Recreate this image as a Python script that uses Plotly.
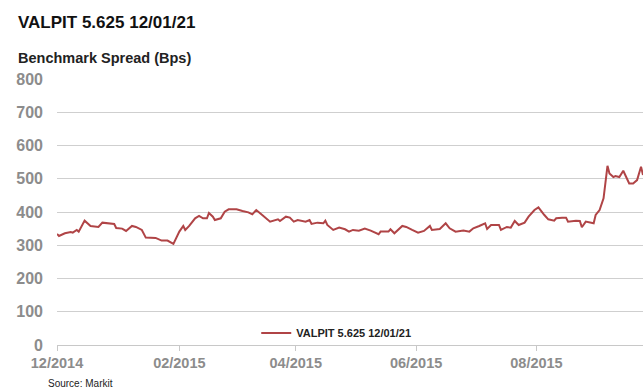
import plotly.graph_objects as go

dates = [
    "2014-12-01", "2014-12-02", "2014-12-05", "2014-12-08", "2014-12-09", "2014-12-11",
    "2014-12-12", "2014-12-15", "2014-12-18", "2014-12-22", "2014-12-24", "2014-12-28",
    "2014-12-30", "2014-12-31", "2015-01-03", "2015-01-05", "2015-01-08", "2015-01-10",
    "2015-01-13", "2015-01-15", "2015-01-20", "2015-01-23", "2015-01-26", "2015-01-29",
    "2015-02-01", "2015-02-03", "2015-02-04", "2015-02-06", "2015-02-09", "2015-02-11",
    "2015-02-13", "2015-02-15", "2015-02-16", "2015-02-18", "2015-02-19", "2015-02-22",
    "2015-02-24", "2015-02-26", "2015-03-02", "2015-03-05", "2015-03-08", "2015-03-10",
    "2015-03-12", "2015-03-15", "2015-03-19", "2015-03-23", "2015-03-24", "2015-03-27",
    "2015-03-29", "2015-03-31", "2015-04-02", "2015-04-06", "2015-04-08", "2015-04-09",
    "2015-04-12", "2015-04-15", "2015-04-16", "2015-04-17", "2015-04-20", "2015-04-23",
    "2015-04-26", "2015-04-28", "2015-04-30", "2015-05-03", "2015-05-06", "2015-05-09",
    "2015-05-13", "2015-05-14", "2015-05-18", "2015-05-19", "2015-05-21", "2015-05-25",
    "2015-05-27", "2015-05-30", "2015-06-02", "2015-06-05", "2015-06-08", "2015-06-09",
    "2015-06-13", "2015-06-16", "2015-06-18", "2015-06-21", "2015-06-25", "2015-06-28",
    "2015-06-30", "2015-07-03", "2015-07-06", "2015-07-07", "2015-07-09", "2015-07-13",
    "2015-07-14", "2015-07-17", "2015-07-19", "2015-07-21", "2015-07-23", "2015-07-26",
    "2015-07-28", "2015-07-31", "2015-08-02", "2015-08-05", "2015-08-07", "2015-08-10",
    "2015-08-11", "2015-08-14", "2015-08-16", "2015-08-17", "2015-08-21", "2015-08-23",
    "2015-08-24", "2015-08-26", "2015-08-30", "2015-08-31", "2015-09-02", "2015-09-04",
    "2015-09-06", "2015-09-07", "2015-09-09", "2015-09-10", "2015-09-12", "2015-09-14",
    "2015-09-16", "2015-09-17", "2015-09-19", "2015-09-21", "2015-09-23", "2015-09-24",
]
spread = [
    334, 328, 336, 340, 338, 346,
    341, 374, 358, 355, 368, 364,
    364, 352, 350, 343, 358, 355,
    346, 323, 322, 314, 314, 304,
    341, 358, 346, 358, 381, 388,
    381, 381, 397, 386, 376, 381,
    401, 408, 408, 403, 399, 393,
    406, 391, 371, 378, 373, 386,
    383, 371, 376, 371, 376, 364,
    368, 366, 374, 361, 346, 353,
    348, 341, 346, 344, 350, 344,
    333, 341, 341, 348, 336, 358,
    355, 346, 338, 343, 358, 346,
    349, 366, 351, 341, 344, 341,
    351, 358, 366, 349, 361, 361,
    346, 355, 353, 373, 361, 368,
    386, 406, 414, 391, 378, 374,
    381, 383, 383, 371, 374, 373,
    354, 371, 366, 391, 406, 441,
    539, 516, 505, 508, 505, 524,
    496, 486, 486, 496, 536, 511,
]
series_name = "VALPIT 5.625 12/01/21"
tick_vals = ["2014-12-01", "2015-02-01", "2015-04-01", "2015-06-01", "2015-08-01"]
tick_text = ["12/2014", "02/2015", "04/2015", "06/2015", "08/2015"]
y_ticks = [0, 100, 200, 300, 400, 500, 600, 700, 800]

fig = go.Figure()
fig.add_trace(go.Scatter(
    x=dates, y=spread, mode="lines", name=series_name,
    line=dict(color="#b04446", width=2),
))

font_family = "Liberation Sans, Arial, sans-serif"
fig.update_layout(
    width=643, height=390,
    margin=dict(l=57, r=0, t=79, b=45),
    paper_bgcolor="white", plot_bgcolor="white",
    showlegend=True,
    legend=dict(
        x=0.34, y=0.045, xanchor="left", yanchor="middle",
        bgcolor="rgba(255,255,255,0)",
        font=dict(family=font_family, size=11, color="#222222", weight="bold"),
    ),
    xaxis=dict(
        type="date",
        range=["2014-12-01", "2015-09-24"],
        tickvals=tick_vals, ticktext=tick_text,
        showgrid=False,
        showline=True, linecolor="#c8c8c8", linewidth=1,
        ticks="outside", ticklen=5, tickcolor="#c8c8c8",
        tickfont=dict(family=font_family, size=14.5, color="#8c8c8c", weight="bold"),
        zeroline=False,
    ),
    yaxis=dict(
        range=[0, 800], tickvals=y_ticks,
        showgrid=True, gridcolor="#cfcfcf", gridwidth=1,
        zeroline=False, showline=False,
        ticks="", ticklabelstandoff=13,
        tickfont=dict(family=font_family, size=16, color="#8c8c8c", weight="bold"),
    ),
)

fig.add_annotation(
    text="VALPIT 5.625 12/01/21", xref="paper", yref="paper",
    x=-57 / 586 + 16 / 586, y=1 + (79 - 22) / 266, xanchor="left", yanchor="middle",
    showarrow=False,
    font=dict(family=font_family, size=17, color="#111111", weight="bold"),
)
fig.add_annotation(
    text="Benchmark Spread (Bps)", xref="paper", yref="paper",
    x=-57 / 586 + 16 / 586, y=1 + (79 - 58) / 266, xanchor="left", yanchor="middle",
    showarrow=False,
    font=dict(family=font_family, size=14.5, color="#222222", weight="bold"),
)
fig.add_annotation(
    text="Source: Markit", xref="paper", yref="paper",
    x=-57 / 586 + 46 / 586, y=-(383 - 345) / 266, xanchor="left", yanchor="middle",
    showarrow=False,
    font=dict(family=font_family, size=10, color="#222222"),
)

fig.write_html("out.html")
